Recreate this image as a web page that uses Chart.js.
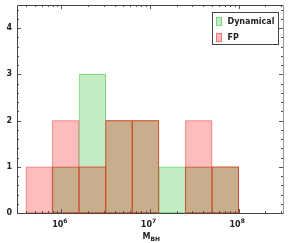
<!DOCTYPE html>
<html>
<head>
<meta charset="utf-8">
<script src="https://cdn.jsdelivr.net/npm/chart.js@4.4.1/dist/chart.umd.min.js"></script>
<style>
  html, body { margin: 0; padding: 0; background: #fff; }
  canvas { display: block; }
</style>
</head>
<body>
<canvas id="histChart" width="300" height="243"></canvas>
<script>
// log10(M_BH) bin edges and counts per bin
const binEdges = [5.6, 5.9, 6.2, 6.5, 6.8, 7.1, 7.4, 7.7, 8.0];
const dynamicalCounts = [0, 1, 3, 2, 2, 1, 1, 1];
const fpCounts = [1, 2, 1, 2, 2, 0, 2, 1];
const seriesLabels = ['Dynamical', 'FP'];
const xTickExponents = [6, 7, 8];
const yTickValues = [0, 1, 2, 3, 4];

const FONT = 'bold 8px "DejaVu Sans"';

function toPoints(counts) {
    const pts = [];
    counts.forEach((c, i) => {
        if (c > 0) pts.push({ x: Math.pow(10, (binEdges[i] + binEdges[i + 1]) / 2), y: c });
    });
    return pts;
}

const overlapCounts = dynamicalCounts.map((c, i) => Math.min(c, fpCounts[i]));

const frameTicks = {
    id: 'frameTicks',
    afterDatasetsDraw(chart) {
        const { ctx, chartArea: a, scales: { x, y } } = chart;
        ctx.save();
        ctx.lineWidth = 1;
        ctx.strokeStyle = '#555';
        ctx.beginPath();
        // x ticks, bottom and top, pointing inward
        for (let d = 5; d <= 8; d++) {
            for (let m = 1; m <= 9; m++) {
                const v = m * Math.pow(10, d);
                if (v < x.min || v > x.max) continue;
                const px = Math.round(x.getPixelForValue(v)) + 0.5;
                const len = m === 1 ? 4 : 2;
                ctx.moveTo(px, a.bottom); ctx.lineTo(px, a.bottom - len);
                ctx.moveTo(px, a.top); ctx.lineTo(px, a.top + len);
            }
        }
        // y ticks, left and right
        for (let k = 0; k <= 22; k++) {
            const v = k * 0.2;
            const py = Math.round(y.getPixelForValue(v)) + 0.5;
            const len = k % 5 === 0 ? 4 : 2;
            ctx.moveTo(a.left, py); ctx.lineTo(a.left + len, py);
            ctx.moveTo(a.right, py); ctx.lineTo(a.right - len, py);
        }
        ctx.stroke();

        // frame
        ctx.strokeStyle = '#444';
        ctx.beginPath();
        ctx.moveTo(a.right, a.top + 0.5); ctx.lineTo(a.left + 0.5, a.top + 0.5);
        ctx.lineTo(a.left + 0.5, a.bottom + 0.5); ctx.lineTo(a.right, a.bottom + 0.5);
        ctx.stroke();
        ctx.strokeStyle = '#999';
        ctx.beginPath();
        ctx.moveTo(a.right + 0.5, a.top); ctx.lineTo(a.right + 0.5, a.bottom + 1);
        ctx.stroke();

        // tick labels
        ctx.fillStyle = '#222';
        ctx.font = FONT;
        ctx.textAlign = 'right';
        ctx.textBaseline = 'middle';
        yTickValues.forEach(v => {
            ctx.fillText(String(v), a.left - 5, y.getPixelForValue(v));
        });
        xTickExponents.forEach(e => {
            const px = x.getPixelForValue(Math.pow(10, e));
            ctx.font = FONT;
            ctx.textAlign = 'right';
            ctx.textBaseline = 'alphabetic';
            ctx.fillText('10', px + 2, a.bottom + 14);
            ctx.font = 'bold 6px "DejaVu Sans"';
            ctx.textAlign = 'left';
            ctx.fillText(String(e), px + 2, a.bottom + 10);
        });

        // axis title M_BH
        const cx = (a.left + a.right) / 2;
        ctx.font = FONT;
        ctx.textAlign = 'right';
        ctx.fillText('M', cx + 0.5, a.bottom + 26);
        ctx.font = 'bold 6px "DejaVu Sans"';
        ctx.textAlign = 'left';
        ctx.fillText('BH', cx + 0.5, a.bottom + 28);

        // legend box
        const lx = 212.5, ly = 12.5, lw = 66, lh = 32;
        ctx.fillStyle = '#fff';
        ctx.fillRect(lx, ly, lw, lh);
        ctx.strokeStyle = '#444';
        ctx.strokeRect(lx, ly, lw, lh);
        chart.data.datasets.slice(0, 2).forEach((ds, i) => {
            const ry = ly + 5 + i * 16;
            ctx.fillStyle = ds.backgroundColor;
            ctx.fillRect(lx + 4, ry, 5, 8);
            ctx.strokeStyle = ds.borderColor;
            ctx.strokeRect(lx + 4, ry, 5, 8);
            ctx.fillStyle = '#222';
            ctx.font = FONT;
            ctx.textAlign = 'left';
            ctx.textBaseline = 'middle';
            ctx.fillText(ds.label, lx + 15, ry + 4);
        });
        ctx.restore();
    }
};

new Chart(document.getElementById('histChart').getContext('2d'), {
    type: 'bar',
    data: {
        datasets: [{
            label: seriesLabels[0],
            data: toPoints(dynamicalCounts),
            backgroundColor: '#c3ecc3',
            borderColor: '#7dd87d',
            borderWidth: 1,
            order: 3
        }, {
            label: seriesLabels[1],
            data: toPoints(fpCounts),
            backgroundColor: '#fdbdbd',
            borderColor: '#f07272',
            borderWidth: 1,
            order: 2
        }, {
            label: 'overlap',
            data: toPoints(overlapCounts),
            backgroundColor: '#c9ae8e',
            borderColor: '#cc4a2c',
            borderWidth: 1,
            order: 1
        }]
    },
    options: {
        responsive: false,
        animation: false,
        devicePixelRatio: 1,
        grouped: false,
        barPercentage: 1,
        categoryPercentage: 1,
        borderSkipped: false,
        layout: { padding: { left: 17, right: 17, top: 5, bottom: 30 } },
        plugins: {
            legend: { display: false },
            tooltip: { enabled: false }
        },
        scales: {
            x: { type: 'logarithmic', min: Math.pow(10, 5.5), max: Math.pow(10, 8.5), display: false },
            y: { min: 0, max: 4.5, display: false }
        }
    },
    plugins: [frameTicks]
});
</script>
</body>
</html>
